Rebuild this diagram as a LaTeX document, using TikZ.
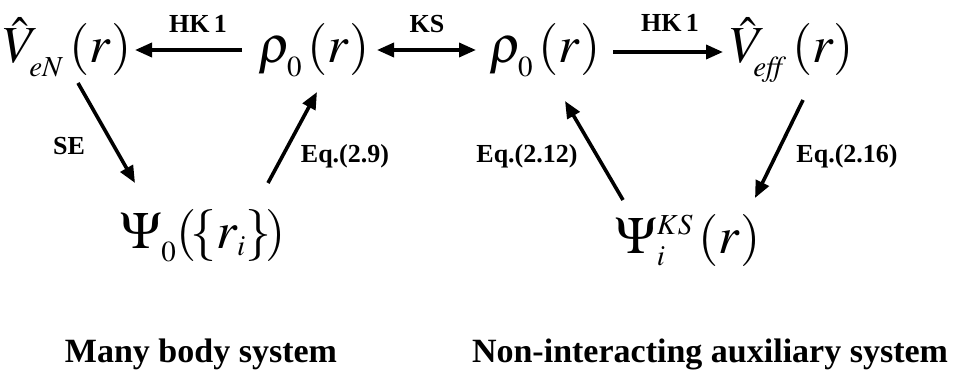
\documentclass[tikz,border=0pt]{standalone}
\usepackage{mathptmx}
\usepackage[no-math]{fontspec}
\setmainfont{Liberation Serif}
\usetikzlibrary{arrows.meta}
\DeclareMathSizes{52}{52}{29}{21}
\newcommand\mysub[1]{_{\raisebox{-6pt}{$\scriptstyle #1$}}}
\tikzset{
  mth/.style={anchor=base, inner sep=0pt, font=\fontsize{52}{62}\selectfont},
  lbl/.style={anchor=base, inner sep=0pt, font=\fontsize{26}{30}\selectfont\bfseries},
  ttl/.style={anchor=base, inner sep=0pt, font=\fontsize{34}{40}\selectfont\bfseries},
  arr/.style={line width=3.6pt, -{Triangle[length=17pt,width=14pt]}},
  darr/.style={line width=3.6pt, {Triangle[length=17pt,width=14pt]}-{Triangle[length=17pt,width=14pt]}}
}
\begin{document}
\begin{tikzpicture}[x=1pt,y=-1pt]
\useasboundingbox (0,0) rectangle (957,374);
% nodes
\node[mth] (veN) at (67,63) {$\hat{V}\mysub{eN}\mkern2mu(r)$};
\node[mth] (rhoL) at (314,63) {$\rho\mysub{0}\mkern2mu(r)$};
\node[mth] (rhoR) at (545,63) {$\rho\mysub{0}\mkern2mu(r)$};
\node[mth] (veff) at (792,63) {$\hat{V}\mysub{\!\mathit{eff}}\mkern2mu(r)$};
\node[mth] (psi0) at (203,248) {$\Psi\mysub{0}(\mkern-2mu\{r_i\}\mkern-2mu)$};
\node[mth] (psiks) at (688,253) {$\Psi_i^{KS}\mkern2mu(r)$};
% connector end points
\coordinate (a1) at (242,50); \coordinate (a2) at (135,50);
\coordinate (b1) at (377,50); \coordinate (b2) at (476,50);
\coordinate (c1) at (613,52); \coordinate (c2) at (723,52);
\coordinate (d1) at (78,83);  \coordinate (d2) at (135,183);
\coordinate (e1) at (268,183); \coordinate (e2) at (317,92);
\coordinate (f1) at (623,200); \coordinate (f2) at (565,101);
\coordinate (g1) at (803,100); \coordinate (g2) at (755,198);
\draw[arr] (a1) -- (a2);
\draw[darr] (b1) -- (b2);
\draw[arr] (c1) -- (c2);
\draw[arr] (d1) -- (d2);
\draw[arr] (e1) -- (e2);
\draw[arr] (f1) -- (f2);
\draw[arr] (g1) -- (g2);
% labels
\node[lbl] (l1) at (198,33) {HK\,1};
\node[lbl] (l2) at (427,33) {KS};
\node[lbl] (l3) at (670,32) {HK\,1};
\node[lbl] (l4) at (69,155) {SE};
\node[lbl] (l5) at (345,163) {Eq.(2.9)};
\node[lbl] (l6) at (527,163) {Eq.(2.12)};
\node[lbl] (l7) at (847,163) {Eq.(2.16)};
\node[ttl] (t1) at (201,362) {Many body system};
\node[ttl] (t2) at (710,362) {Non-interacting auxiliary system};
\end{tikzpicture}
\end{document}
